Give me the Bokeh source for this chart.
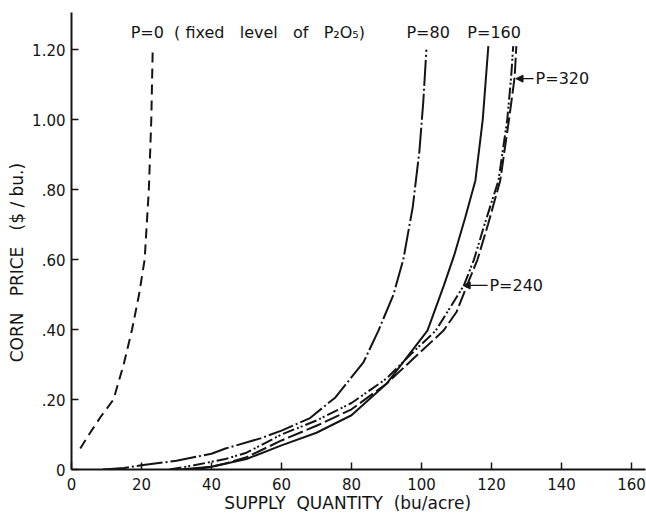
from bokeh.plotting import figure
from bokeh.models import Range1d, Label, Arrow, NormalHead, FixedTicker
from bokeh.embed import file_html
from bokeh.resources import INLINE

# ---- data (quantity in bu/acre, price in $/bu) ----
p0_qty = [2.5, 5, 8.3, 12, 14.9, 17.3, 19.3, 20.9, 22.1, 22.8, 23.2]
p0_price = [0.06, 0.10, 0.15, 0.20, 0.30, 0.40, 0.50, 0.60, 0.80, 1.00, 1.20]

p80_qty = [9, 15, 20, 30, 40, 44, 54, 60, 68, 75.4, 83.4, 87.7, 92, 94.8, 97.5, 99.4, 100.5, 101.4]
p80_price = [0, 0.004, 0.012, 0.025, 0.045, 0.06, 0.089, 0.111, 0.146, 0.206, 0.306, 0.397, 0.50, 0.60, 0.75, 0.91, 1.05, 1.20]

p160_qty = [31, 40, 50, 60, 70, 80, 90, 95, 101.7, 106.4, 109.3, 112.5, 115.4, 117.5, 119.1]
p160_price = [0, 0.008, 0.03, 0.069, 0.105, 0.155, 0.245, 0.31, 0.397, 0.526, 0.611, 0.72, 0.826, 1.00, 1.21]

p240_qty = [28, 35, 44, 50, 60, 70, 80, 90, 97, 104.1, 108, 112.1, 115, 118, 122, 124.5, 125.6, 126.2]
p240_price = [0, 0.012, 0.03, 0.048, 0.10, 0.14, 0.19, 0.26, 0.33, 0.397, 0.46, 0.526, 0.60, 0.70, 0.826, 1.00, 1.12, 1.21]

p320_qty = [35, 40, 44, 50, 60, 70, 80, 90, 98, 106.3, 110, 113, 116, 119, 122.5, 125, 126.6, 127.1]
p320_price = [0, 0.008, 0.017, 0.035, 0.083, 0.125, 0.172, 0.245, 0.32, 0.397, 0.45, 0.526, 0.60, 0.70, 0.826, 1.00, 1.12, 1.21]

x_ticks = [0, 20, 40, 60, 80, 100, 120, 140, 160]
y_ticks = [0, 0.2, 0.4, 0.6, 0.8, 1.0, 1.2]
y_tick_labels = ["0", ".20", ".40", ".60", ".80", "1.00", "1.20"]

FONT = "DejaVu Sans"
INK = "#141414"
NB = "\u00a0"

p = figure(width=646, height=515, output_backend="svg", toolbar_location=None,
           x_range=Range1d(0, 164), y_range=Range1d(0, 1.306),
           min_border_left=71, min_border_right=1, min_border_top=12,
           min_border_bottom=46, background_fill_color="white",
           border_fill_color="white")
p.outline_line_color = None
p.grid.visible = False

# axes
for ax in (p.xaxis[0], p.yaxis[0]):
    ax.axis_line_width = 2
    ax.axis_line_color = INK
    ax.major_tick_line_color = INK
    ax.major_tick_line_width = 1.5
    ax.major_tick_in = 7
    ax.major_tick_out = 0
    ax.minor_tick_line_color = None
    ax.major_label_text_font = FONT
    ax.major_label_text_font_size = "15px"
    ax.major_label_text_color = INK
    ax.axis_label_text_font = FONT
    ax.axis_label_text_font_size = "17px"
    ax.axis_label_text_font_style = "normal"
    ax.axis_label_text_color = INK

p.xaxis[0].ticker = FixedTicker(ticks=x_ticks)
p.xaxis[0].major_label_standoff = 8
p.xaxis[0].axis_label = "SUPPLY" + NB * 2 + "QUANTITY" + NB * 2 + "(bu/acre)" + NB * 4
p.xaxis[0].axis_label_standoff = 0
p.yaxis[0].ticker = FixedTicker(ticks=y_ticks)
p.yaxis[0].major_label_overrides = {t: s for t, s in zip(y_ticks, y_tick_labels)}
p.yaxis[0].major_label_standoff = 6
p.yaxis[0].axis_label = ("CORN" + NB * 3 + "PRICE" + NB * 3 + "($" + NB + "/" + NB + "bu.)"
                         + NB * 8)
p.yaxis[0].axis_label_standoff = 2

# curves
p.line(p0_qty, p0_price, line_color=INK, line_width=2, line_dash="10 6")
p.line(p80_qty, p80_price, line_color=INK, line_width=2, line_dash="26 3 2 3")
p.line(p160_qty, p160_price, line_color=INK, line_width=2)
p.line(p240_qty, p240_price, line_color=INK, line_width=2, line_dash="12 3 2 2 2 3")
p.line(p320_qty, p320_price, line_color=INK, line_width=2, line_dash="16 4")

# annotations
def lab(x, y, text, size="16px", align="left"):
    p.add_layout(Label(x=x, y=y, text=text, text_font=FONT, text_font_size=size,
                       text_color=INK, text_align=align, text_baseline="middle"))

lab(16.9, 1.249, "P=0" + NB * 2 + "(" + NB + "fixed" + NB * 3 + "level" + NB * 3 + "of"
    + NB * 3 + "P₂O₅)")
lab(95.7, 1.249, "P=80")
lab(113.1, 1.249, "P=160")
lab(132.6, 1.117, "P=320")
lab(119.4, 0.526, "P=240")

p.add_layout(Arrow(end=NormalHead(size=7, fill_color=INK, line_color=INK),
                   x_start=132.0, y_start=1.117, x_end=127.0, y_end=1.117,
                   line_color=INK, line_width=1.3))
p.add_layout(Arrow(end=NormalHead(size=7, fill_color=INK, line_color=INK),
                   x_start=118.9, y_start=0.526, x_end=111.9, y_end=0.526,
                   line_color=INK, line_width=1.3))

open("out.html", "w").write(file_html(p, INLINE))
